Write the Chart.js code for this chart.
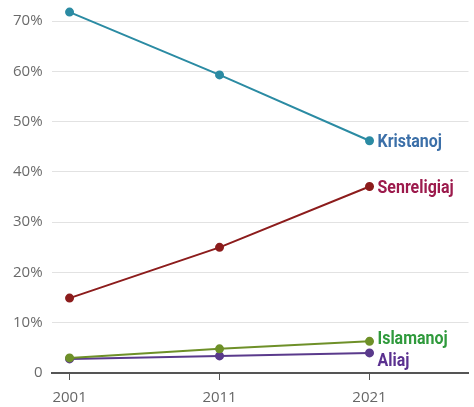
<!DOCTYPE html>
<html>
<head>
<meta charset="utf-8">
<script src="https://cdn.jsdelivr.net/npm/chart.js@4"></script>
<style>
  html, body { margin: 0; padding: 0; background: #fff; overflow: hidden; }
  #wrap { width: 474px; height: 407px; overflow: hidden; }
  #chart { display: block; margin-top: -17px; }
</style>
</head>
<body>
<div id="wrap"><canvas id="chart" width="474" height="433"></canvas></div>
<script>
const years = [2001, 2011, 2021];
const seriesNames = ['Kristanoj', 'Senreligiaj', 'Islamanoj', 'Aliaj'];
const kristanoj = [71.8, 59.3, 46.2];
const senreligiaj = [14.9, 25.0, 37.1];
const islamanoj = [3.0, 4.8, 6.3];
const aliaj = [2.8, 3.4, 4.0];

const lineColors = ['#2b8ba3', '#8c1c1c', '#6e9028', '#5a3a8c'];
const labelColors = ['#3b6fa8', '#9c1a4c', '#2f9a3c', '#5b3190'];
const labelShift = [1, 2, -2, 8];

const allSeries = [kristanoj, senreligiaj, islamanoj, aliaj];

const datasets = allSeries.map((vals, i) => ({
    label: seriesNames[i],
    data: years.map((y, j) => ({ x: y, y: vals[j] })),
    borderColor: lineColors[i],
    backgroundColor: lineColors[i],
    borderWidth: 2,
    pointRadius: 3.5,
    pointHoverRadius: 3.5,
    fill: false
}));

// draw the series name right of the last point, a bit condensed
const endLabels = {
    id: 'endLabels',
    afterDatasetsDraw(chart) {
        const ctx = chart.ctx;
        chart.data.datasets.forEach((ds, i) => {
            const pts = chart.getDatasetMeta(i).data;
            const p = pts[pts.length - 1];
            ctx.save();
            ctx.translate(p.x + 8, p.y + labelShift[i]);
            ctx.scale(0.84, 1);
            ctx.font = 'bold 19px Roboto, sans-serif';
            ctx.textBaseline = 'middle';
            ctx.textAlign = 'left';
            ctx.fillStyle = labelColors[i];
            ctx.fillText(ds.label, 0, 0);
            ctx.restore();
        });
    }
};

new Chart(document.getElementById('chart'), {
    type: 'line',
    data: { datasets: datasets },
    plugins: [endLabels],
    options: {
        responsive: false,
        animation: false,
        layout: { padding: { top: 0, right: 4, left: 4, bottom: 0 } },
        plugins: { legend: { display: false }, tooltip: { enabled: false } },
        scales: {
            x: {
                type: 'linear',
                min: 1999.8,
                max: 2027.6,
                afterBuildTicks: axis => { axis.ticks = years.map(v => ({ value: v })); },
                ticks: {
                    color: '#666',
                    font: { family: '"Open Sans", sans-serif', size: 15 },
                    padding: 9,
                    callback: v => String(v)
                },
                grid: { display: true, drawOnChartArea: false, drawTicks: true, tickLength: 7, color: '#555', lineWidth: 1 },
                border: { display: true, color: '#555', width: 2 }
            },
            y: {
                min: 0,
                max: 74,
                afterBuildTicks: axis => { axis.ticks = [0, 10, 20, 30, 40, 50, 60, 70].map(v => ({ value: v })); },
                ticks: {
                    color: '#6a6a6a',
                    font: { family: '"Open Sans", sans-serif', size: 15 },
                    padding: 9,
                    callback: v => v === 0 ? '0' : v + '%'
                },
                grid: { color: '#e2e2e2', lineWidth: 1, drawTicks: false },
                border: { display: false }
            }
        }
    }
});
</script>
</body>
</html>
